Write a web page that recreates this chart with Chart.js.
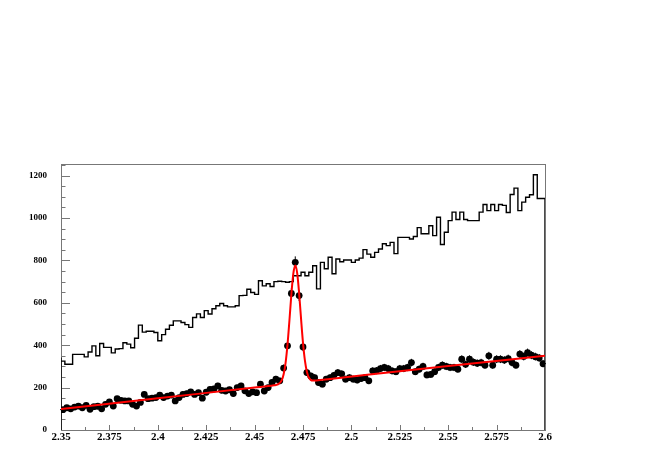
<!DOCTYPE html>
<html lang="en">
<head>
    <meta charset="utf-8">
    <title>Mass spectrum</title>
    <script src="https://cdn.jsdelivr.net/npm/chart.js"></script>
    <style>
        body { margin: 0; background: #fff; }
        canvas { display: block; }
    </style>
</head>
<body>
<canvas id="massChart" width="654" height="463"></canvas>
<script>
    // histogram axis: 125 bins of 0.002 between 2.35 and 2.6
    const xMin = 2.35;
    const xMax = 2.6;
    const nBins = 125;
    const yMax = 1255;

    // open histogram (black line)
    const histCounts = [
        342, 325, 310, 310, 357, 357, 357, 345, 368, 397,
        350, 408, 390, 390, 364, 382, 384, 412, 405, 388,
        433, 495, 462, 466, 466, 460, 421, 450, 475, 494,
        515, 515, 507, 497, 484, 531, 548, 531, 563, 547,
        572, 586, 597, 586, 581, 581, 586, 634, 635, 664,
        649, 640, 704, 680, 690, 677, 700, 702, 700, 697,
        700, 728, 728, 744, 728, 744, 775, 666, 791, 761,
        815, 737, 807, 794, 802, 802, 791, 802, 811, 851,
        830, 815, 838, 854, 879, 870, 885, 832, 909, 909,
        909, 901, 913, 955, 926, 926, 964, 917, 1004, 875,
        933, 988, 1028, 993, 1028, 993, 988, 988, 988, 1028,
        1064, 1035, 1064, 1035, 1064, 1060, 1026, 1111, 1141, 1035,
        1075, 1098, 1110, 1204, 1092
    ];

    // data points (black markers with error bars)
    const dataCounts = [
        96, 105, 100, 108, 113, 105, 116, 98, 110, 112,
        100, 121, 132, 113, 148, 140, 137, 137, 121, 113,
        130, 168, 148, 150, 153, 165, 153, 160, 165, 137,
        153, 168, 172, 180, 168, 176, 150, 178, 192, 194,
        208, 187, 184, 190, 172, 200, 208, 185, 172, 180,
        176, 216, 184, 200, 224, 240, 232, 292, 397, 644,
        791, 634, 392, 271, 255, 247, 224, 216, 240, 247,
        258, 271, 265, 240, 247, 240, 236, 243, 247, 232,
        279, 280, 290, 295, 290, 279, 275, 290, 290, 295,
        318, 275, 287, 300, 260, 262, 275, 295, 306, 300,
        295, 295, 287, 334, 310, 334, 320, 315, 318, 306,
        350, 306, 334, 334, 330, 337, 318, 306, 358, 347,
        365, 353, 346, 340, 313
    ];

    // fitted curve (red)
    const fitX = [2.35, 2.40, 2.45, 2.46, 2.462, 2.464, 2.465, 2.466, 2.467, 2.468,
                  2.469, 2.470, 2.471, 2.472, 2.473, 2.474, 2.475, 2.476, 2.477, 2.478,
                  2.480, 2.482, 2.489, 2.55, 2.6];
    const fitY = [99, 150, 200, 211, 215, 234, 263, 317, 403, 518,
                  641, 738, 776, 740, 645, 524, 411, 327, 275, 248,
                  233, 234, 241, 302, 350];

    const xTickValues = [2.35, 2.375, 2.4, 2.425, 2.45, 2.475, 2.5, 2.525, 2.55, 2.575, 2.6];
    const xTickLabels = ['2.35', '2.375', '2.4', '2.425', '2.45', '2.475', '2.5', '2.525', '2.55', '2.575', '2.6'];
    const yTickValues = [0, 200, 400, 600, 800, 1000, 1200];
    const yTickLabels = ['0', '200', '400', '600', '800', '1000', '1200'];

    const binWidth = (xMax - xMin) / nBins;

    // histogram outline: step at each bin low edge, closed down to zero at the right
    const histPoints = [{ x: xMin, y: 0 }];
    histCounts.forEach((c, i) => histPoints.push({ x: xMin + i * binWidth, y: c }));
    histPoints.push({ x: xMax, y: histCounts[nBins - 1] });
    histPoints.push({ x: xMax, y: 0 });

    const dataPoints = dataCounts.map((c, i) => ({ x: xMin + (i + 0.5) * binWidth, y: c }));
    const fitPoints = fitX.map((x, i) => ({ x: x, y: fitY[i] }));

    // frame, inward ticks and error bars
    const framePlugin = {
        id: 'frame',
        beforeDatasetsDraw(chart) {
            const { ctx, chartArea: a, scales: { x, y } } = chart;
            ctx.save();
            ctx.strokeStyle = '#777';
            ctx.lineWidth = 1;
            ctx.strokeRect(a.left + 0.5, a.top + 0.5, a.right - a.left, a.bottom - a.top);
            ctx.beginPath();
            for (let v = 0; v <= yMax; v += 50) {
                const py = Math.round(y.getPixelForValue(v)) + 0.5;
                const len = v % 200 === 0 ? 9 : 4.5;
                ctx.moveTo(a.left, py);
                ctx.lineTo(a.left + len, py);
            }
            for (let k = 0; k <= 20; k++) {
                const px = Math.round(x.getPixelForValue(xMin + k * 0.0125)) + 0.5;
                const len = k % 2 === 0 ? 5 : 3;
                ctx.moveTo(px, a.bottom);
                ctx.lineTo(px, a.bottom - len);
            }
            ctx.stroke();

            // error bars of the data points
            ctx.strokeStyle = '#000';
            ctx.beginPath();
            dataPoints.forEach(p => {
                const err = Math.sqrt(p.y);
                const px = x.getPixelForValue(p.x);
                const py = y.getPixelForValue(p.y);
                ctx.moveTo(px, y.getPixelForValue(p.y - err));
                ctx.lineTo(px, y.getPixelForValue(p.y + err));
                ctx.moveTo(x.getPixelForValue(p.x - binWidth / 2) - 1, py);
                ctx.lineTo(x.getPixelForValue(p.x + binWidth / 2) + 1, py);
            });
            ctx.stroke();
            ctx.restore();
        }
    };

    new Chart(document.getElementById('massChart'), {
        type: 'scatter',
        data: {
            datasets: [
                {
                    label: 'fit',
                    data: fitPoints,
                    showLine: true,
                    borderColor: '#ff0000',
                    borderWidth: 2,
                    pointRadius: 0,
                    cubicInterpolationMode: 'monotone',
                    fill: false
                },
                {
                    label: 'data',
                    data: dataPoints,
                    showLine: false,
                    pointRadius: 3.4,
                    pointBackgroundColor: '#000',
                    pointBorderWidth: 0
                },
                {
                    label: 'histogram',
                    data: histPoints,
                    showLine: true,
                    stepped: 'after',
                    borderColor: '#000',
                    borderWidth: 1.4,
                    pointRadius: 0,
                    fill: false
                }
            ]
        },
        options: {
            responsive: false,
            animation: false,
            layout: { padding: { left: 0, top: 164, right: 109, bottom: 0 } },
            plugins: { legend: { display: false }, tooltip: { enabled: false } },
            scales: {
                x: {
                    type: 'linear',
                    min: xMin,
                    max: xMax,
                    afterFit: s => { s.height = 33; },
                    afterBuildTicks: s => { s.ticks = xTickValues.map(v => ({ value: v })); },
                    grid: { display: false, drawTicks: false },
                    border: { display: false },
                    ticks: {
                        autoSkip: false,
                        maxRotation: 0,
                        padding: 1,
                        color: '#000',
                        font: { family: 'Liberation Serif', size: 11, weight: 'bold' },
                        callback: (v, i) => xTickLabels[i]
                    }
                },
                y: {
                    type: 'linear',
                    min: 0,
                    max: yMax,
                    afterFit: s => { s.width = 61; },
                    afterBuildTicks: s => { s.ticks = yTickValues.map(v => ({ value: v })); },
                    grid: { display: false, drawTicks: false },
                    border: { display: false },
                    ticks: {
                        autoSkip: false,
                        padding: 14,
                        color: '#000',
                        font: { family: 'Liberation Serif', size: 9, weight: 'bold' },
                        callback: (v, i) => yTickLabels[i]
                    }
                }
            }
        },
        plugins: [framePlugin]
    });
</script>
</body>
</html>
